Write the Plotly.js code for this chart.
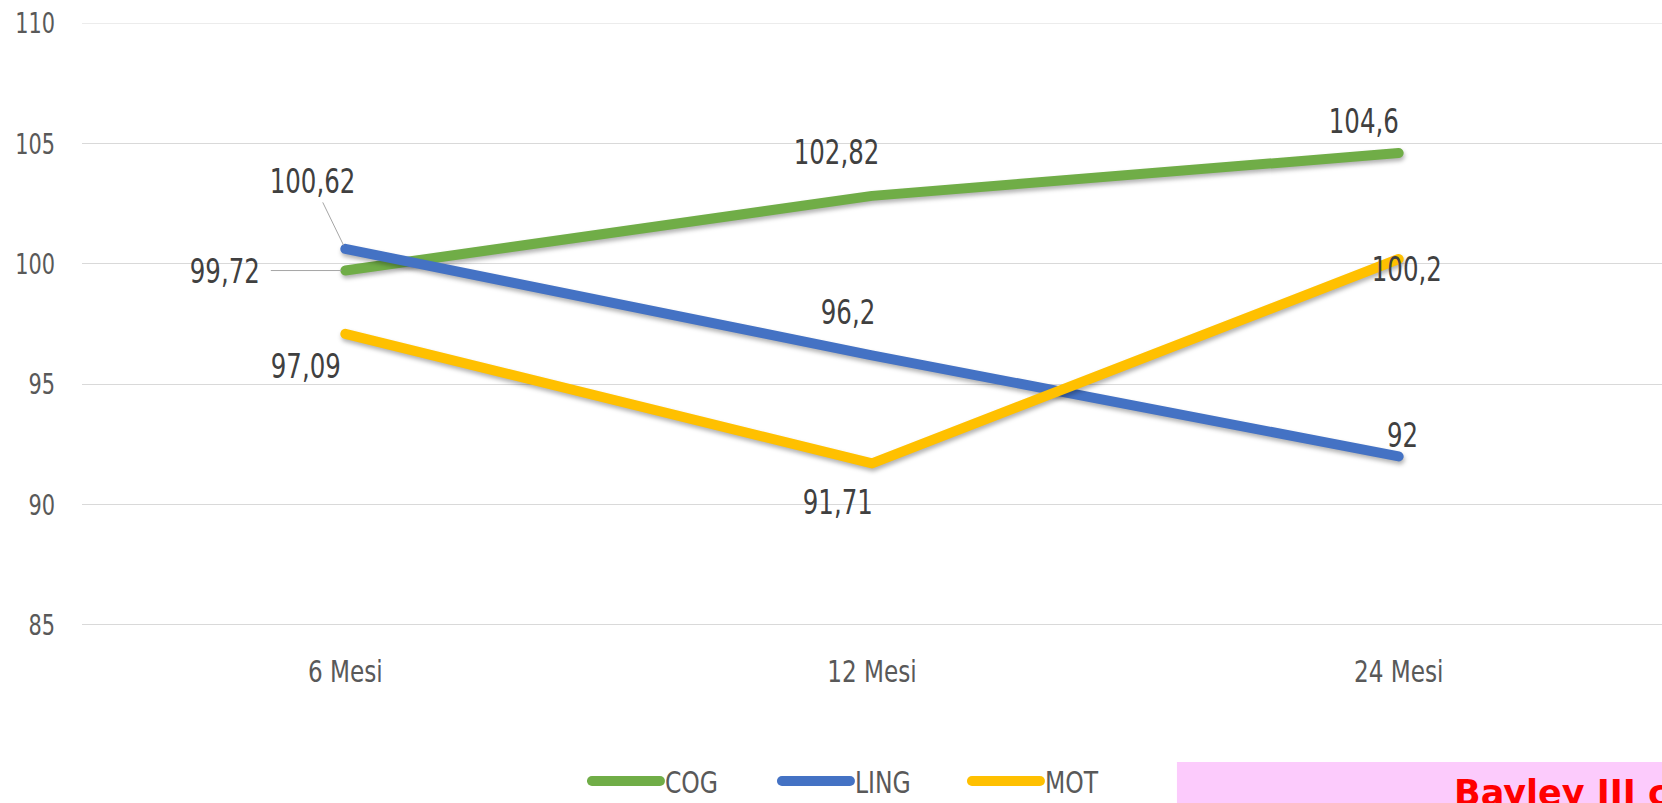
<!DOCTYPE html>
<html>
<head>
<meta charset="utf-8">
<script src="https://cdn.plot.ly/plotly-3.0.1.min.js"></script>
<style>
  html, body { margin: 0; padding: 0; background: #ffffff; }
  #chart { width: 1662px; height: 803px; }
  #chart .scatterlayer .js-line {
    stroke-linecap: round; stroke-linejoin: round;
    filter: drop-shadow(1px 3px 2px rgba(0,0,0,0.30));
  }
  #chart .legendlines path { stroke-linecap: round; }
</style>
</head>
<body>
<div id="chart"></div>
<script>
// ---- data ----
var categories = ['6 Mesi', '12 Mesi', '24 Mesi'];
var cog  = [99.72, 102.82, 104.6];
var ling = [100.62, 96.2, 92];
var mot  = [97.09, 91.71, 100.2];
var seriesNames = ['COG', 'LING', 'MOT'];
var yTicks = [85, 90, 95, 100, 105, 110];
var boxText = 'Bayley III c';

// ---- styles ----
var colors = ['#70ad47', '#4472c4', '#ffc000'];
var narrow = '"Liberation Sans Narrow", "Arial Narrow", "DejaVu Sans Condensed", sans-serif';
var seriesValues = [cog, ling, mot];

var traces = seriesValues.map(function (vals, i) {
  return {
    type: 'scatter', mode: 'lines',
    x: categories, y: vals, name: seriesNames[i],
    line: { color: colors[i], width: 10 },
    hoverinfo: 'skip'
  };
});

// label placement (pixel offsets relative to each point): [dx, dy(down+), leader]
var labelOffsets = [
  [[-120, 0, true], [-36, -44], [-35, -32]],     // COG
  [[-33, -68, true], [-24, -43], [4, -21]],      // LING
  [[-39, 32], [-34, 39], [8, 10]]                // MOT
];

function fmt(v) { return String(v).replace('.', ','); }

var annotations = [];
seriesValues.forEach(function (vals, s) {
  vals.forEach(function (v, i) {
    var off = labelOffsets[s][i];
    var a = {
      x: categories[i], y: v, xref: 'x', yref: 'y',
      text: fmt(v),
      font: { family: narrow, size: 34, color: '#404040' }
    };
    if (off[2]) {
      a.showarrow = true; a.arrowhead = 0; a.arrowwidth = 1;
      a.arrowcolor = '#a6a6a6'; a.ax = off[0]; a.ay = off[1]; a.standoff = 4;
    } else {
      a.showarrow = false; a.xshift = off[0]; a.yshift = -off[1];
    }
    annotations.push(a);
  });
});

annotations.push({
  xref: 'paper', yref: 'paper', x: 0.867, y: -0.243,
  xanchor: 'left', yanchor: 'top', showarrow: false,
  text: '<b>' + boxText + '</b>',
  font: { family: '"DejaVu Sans", Verdana, sans-serif', size: 35, color: '#ff0000' }
});

var yEdge = [yTicks[0], yTicks[yTicks.length - 1]];
var shapes = yEdge.map(function (v, i) {
  return { type: 'line', xref: 'paper', yref: 'y', x0: 0, x1: 1, y0: v, y1: v,
           line: { color: '#d9d9d9', width: i === 0 ? 2 : 1 }, layer: 'below' };
});
shapes.push({ type: 'rect', xref: 'paper', yref: 'paper', x0: 0.693, x1: 1.02, y0: -0.32, y1: -0.2276,
              fillcolor: '#fccbfc', line: { width: 0 }, layer: 'below' });

var layout = {
  width: 1662, height: 803,
  margin: { l: 82, r: 0, t: 23, b: 178, autoexpand: false },
  paper_bgcolor: '#ffffff', plot_bgcolor: '#ffffff',
  showlegend: true,
  legend: {
    orientation: 'h', x: 0.3196, xanchor: 'left', y: -0.2591, yanchor: 'middle',
    font: { family: narrow, size: 30, color: '#595959' },
    itemwidth: 68, entrywidth: 107, entrywidthmode: 'pixels', bgcolor: 'rgba(0,0,0,0)'
  },
  xaxis: {
    type: 'category', range: [-0.5, 2.5], showgrid: false, zeroline: false,
    showline: false, ticks: '', ticklabelstandoff: 25,
    tickfont: { family: narrow, size: 31, color: '#595959' },
    fixedrange: true
  },
  yaxis: {
    range: [85, 110], tickvals: yTicks, ticktext: yTicks.map(String),
    showgrid: true, gridcolor: '#d9d9d9', gridwidth: 1,
    zeroline: false, showline: false, ticks: '', ticklabelstandoff: 26,
    tickfont: { family: narrow, size: 29, color: '#595959' },
    fixedrange: true
  },
  shapes: shapes,
  annotations: annotations
};

function condense(root) {
  var groups = [
    ['.ytick text', 0.80],
    ['.xtick text', 0.83],
    ['.legendtext', 0.87],
    ['.annotation-text', 0.80]
  ];
  groups.forEach(function (g) {
    root.querySelectorAll(g[0]).forEach(function (el) {
      if (el.textContent.indexOf(boxText) !== -1) return;
      var w = el.getComputedTextLength();
      if (w > 0) {
        el.setAttribute('textLength', (w * g[1]).toFixed(1));
        el.setAttribute('lengthAdjust', 'spacingAndGlyphs');
      }
    });
  });
}

Plotly.newPlot('chart', traces, layout, { displayModeBar: false, staticPlot: true })
  .then(function (gd) { condense(gd); });
</script>
</body>
</html>
